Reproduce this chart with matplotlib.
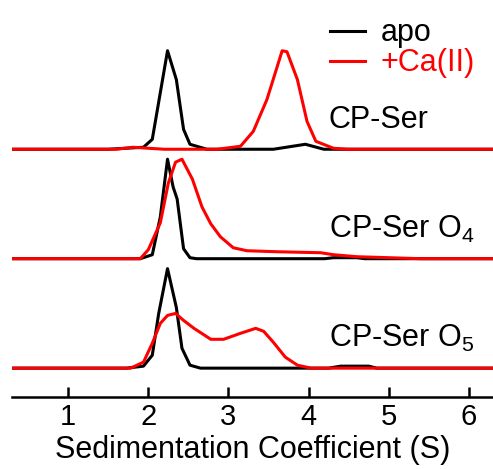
import matplotlib
matplotlib.use('Agg')
import matplotlib.pyplot as plt

plt.rcParams['font.family'] = ['Liberation Sans', 'DejaVu Sans']
plt.rcParams['mathtext.fontset'] = 'custom'
plt.rcParams['mathtext.rm'] = 'Liberation Sans'

# CP-Ser (top)
ser_apo_s = [0.3, 1.5, 1.94, 2.05, 2.24, 2.35, 2.44, 2.52, 2.73, 3.1, 3.56, 3.96, 4.19, 6.3]
ser_apo_y = [0, 0, 0.02, 0.1, 0.99, 0.70, 0.2, 0.05, 0.0, 0.0, 0.0, 0.05, 0.0, 0]
ser_ca_s = [0.3, 1.6, 1.81, 2.0, 2.2, 2.86, 3.15, 3.31, 3.48, 3.67, 3.73, 3.86, 3.98, 4.09, 4.31, 4.48, 6.3]
ser_ca_y = [0, 0, 0.02, 0.01, 0.0, 0.0, 0.03, 0.18, 0.5, 0.99, 0.98, 0.7, 0.28, 0.08, 0.01, 0, 0]

# CP-Ser O4 (middle)
o4_apo_s = [0.3, 1.9, 2.05, 2.15, 2.24, 2.31, 2.36, 2.44, 2.52, 2.6, 4.2, 4.31, 4.6, 4.7, 6.3]
o4_apo_y = [0, 0, 0.04, 0.42, 1.0, 0.72, 0.6, 0.1, 0.01, 0, 0, 0.01, 0.01, 0, 0]
o4_ca_s = [0.3, 1.9, 2.0, 2.15, 2.25, 2.34, 2.42, 2.55, 2.67, 2.78, 2.9, 3.06, 3.23, 3.6, 4.15, 4.31, 4.6, 5.4, 6.3]
o4_ca_y = [0, 0, 0.09, 0.36, 0.76, 0.97, 1.0, 0.8, 0.52, 0.35, 0.22, 0.11, 0.08, 0.07, 0.06, 0.04, 0.02, 0, 0]

# CP-Ser O5 (bottom)
o5_apo_s = [0.3, 1.73, 1.94, 2.05, 2.13, 2.24, 2.35, 2.42, 2.52, 2.65, 4.25, 4.4, 4.75, 4.85, 6.3]
o5_apo_y = [0, 0, 0.02, 0.13, 0.55, 1.0, 0.61, 0.2, 0.03, 0, 0, 0.02, 0.02, 0, 0]
o5_ca_s = [0.3, 1.78, 1.94, 2.05, 2.15, 2.24, 2.34, 2.44, 2.57, 2.78, 2.94, 3.15, 3.34, 3.44, 3.56, 3.71, 3.86, 4.03, 6.3]
o5_ca_y = [0, 0, 0.06, 0.25, 0.45, 0.53, 0.55, 0.48, 0.4, 0.29, 0.29, 0.35, 0.4, 0.37, 0.26, 0.11, 0.03, 0, 0]

panels = [
    ('CP-Ser', ser_apo_s, ser_apo_y, ser_ca_s, ser_ca_y, 2.2),
    (r'CP-Ser O$_\mathregular{4}$', o4_apo_s, o4_apo_y, o4_ca_s, o4_ca_y, 1.1),
    (r'CP-Ser O$_\mathregular{5}$', o5_apo_s, o5_apo_y, o5_ca_s, o5_ca_y, 0.0),
]

fig = plt.figure(figsize=(4.93, 4.69), dpi=100)
ax = fig.add_axes([12 / 493, 72 / 469, 481 / 493, 397 / 469])

lw = 2.2
for i, (name, sa, ya, sc, yc, off) in enumerate(panels):
    ax.plot(sa, [v + off for v in ya], color='black', lw=lw, label='apo' if i == 0 else None)
    ax.plot(sc, [v + off for v in yc], color='red', lw=lw, label='+Ca(II)' if i == 0 else None)
    ax.text(4.25, off + 0.21, name, fontsize=22, va='baseline', ha='left')

ax.set_xlim(0.3, 6.3)
ax.set_ylim(-0.29, 3.70)
ax.set_xticks([1, 2, 3, 4, 5, 6])
ax.set_yticks([])
for sp in ['left', 'right', 'top']:
    ax.spines[sp].set_visible(False)
ax.spines['bottom'].set_linewidth(1.8)
ax.tick_params(axis='x', direction='in', length=7, width=1.8, labelsize=21, pad=4)
ax.set_xlabel('Sedimentation Coefficient (S)', fontsize=22, labelpad=3)

leg = ax.legend(loc='upper right', bbox_to_anchor=(1.0, 1.0), frameon=False, fontsize=22,
                handlelength=1.15, handletextpad=0.5, labelspacing=0.0, labelcolor='linecolor',
                borderaxespad=0.2)

fig.savefig('out.png', dpi=100)
